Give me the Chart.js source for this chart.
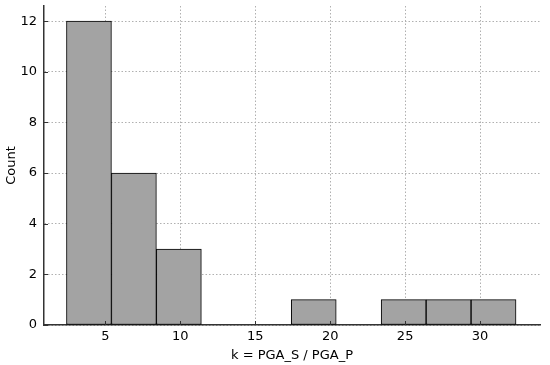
<!DOCTYPE html>
<html>
<head>
<meta charset="utf-8">
<script src="https://cdn.jsdelivr.net/npm/chart.js@4"></script>
<style>
  html, body { margin: 0; padding: 0; background: #fff; }
  #wrap { width: 550px; height: 365px; }
</style>
</head>
<body>
<div id="wrap"><canvas id="histChart" width="550" height="365"></canvas></div>
<script>
// histogram bins (width 3.0, starting at 2.4)
const binCenters = [3.9, 6.9, 9.9, 12.9, 15.9, 18.9, 21.9, 24.9, 27.9, 30.9];
const counts = [12, 6, 3, 0, 0, 1, 0, 1, 1, 1];
const xTicks = [5, 10, 15, 20, 25, 30];
const yTicks = [0, 2, 4, 6, 8, 10, 12];

const font = { family: 'DejaVu Sans', size: 13 };

// matplotlib-style inward tick marks
const inwardTicks = {
  id: 'inwardTicks',
  afterDraw(chart) {
    const { ctx, chartArea } = chart;
    const xs = chart.scales.x, ys = chart.scales.y;
    ctx.save();
    ctx.strokeStyle = '#333';
    ctx.lineWidth = 1;
    ctx.beginPath();
    xTicks.forEach(v => {
      const px = Math.round(xs.getPixelForValue(v)) + 0.5;
      ctx.moveTo(px, chartArea.bottom);
      ctx.lineTo(px, chartArea.bottom - 4);
    });
    yTicks.forEach(v => {
      const py = Math.round(ys.getPixelForValue(v)) + 0.5;
      ctx.moveTo(chartArea.left, py);
      ctx.lineTo(chartArea.left + 4, py);
    });
    ctx.stroke();
    ctx.restore();
  }
};

new Chart(document.getElementById('histChart').getContext('2d'), {
  type: 'bar',
  data: {
    datasets: [{
      label: 'Count',
      data: binCenters.map((c, i) => ({ x: c, y: counts[i] })),
      backgroundColor: '#a3a3a3',
      borderColor: '#000',
      borderWidth: 1,
      borderSkipped: false,
      barPercentage: 1,
      categoryPercentage: 1,
      grouped: false
    }]
  },
  options: {
    responsive: false,
    animation: false,
    layout: { padding: { top: 6, right: 10, left: 4, bottom: 0 } },
    plugins: { legend: { display: false }, tooltip: { enabled: false } },
    scales: {
      x: {
        type: 'linear',
        offset: false,
        min: 0.9,
        max: 34,
        afterBuildTicks: s => { s.ticks = xTicks.map(v => ({ value: v })); },
        afterFit: s => { s.height = 40; },
        ticks: { font: font, color: '#000', padding: 4 },
        grid: { offset: false, color: '#b0b0b0', lineWidth: 1, drawTicks: false },
        border: { color: '#333', width: 1.5, dash: [1.5, 2] },
        title: { display: true, text: 'k = PGA_S / PGA_P', font: font, color: '#000', padding: { top: 3, bottom: 2 } }
      },
      y: {
        min: 0,
        max: 12.6,
        afterBuildTicks: s => { s.ticks = yTicks.map(v => ({ value: v })); },
        afterFit: s => { s.width = 40; s.paddingTop = 0; s.paddingBottom = 0; },
        ticks: { font: font, color: '#000', padding: 7 },
        grid: { color: '#b0b0b0', lineWidth: 1, drawTicks: false },
        border: { color: '#333', width: 1.5, dash: [1.5, 2] },
        title: { display: true, text: 'Count', font: font, color: '#000', padding: { top: 0, bottom: 2 } }
      }
    }
  },
  plugins: [inwardTicks]
});
</script>
</body>
</html>
